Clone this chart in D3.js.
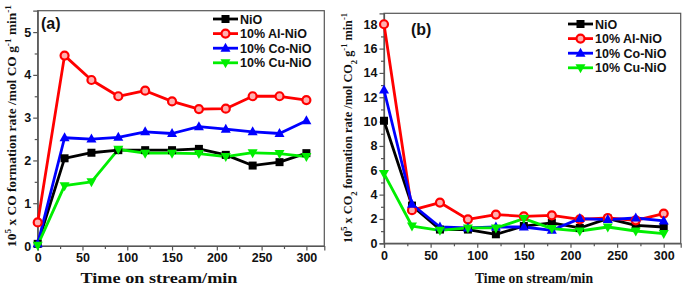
<!DOCTYPE html>
<html><head><meta charset="utf-8">
<script src="https://cdn.jsdelivr.net/npm/d3@7"></script>
<style>body{margin:0;background:#fff}svg{display:block}</style>
</head><body>
<script>
const times = [0,30,60,90,120,150,180,210,240,270,300];
const seriesNames = ["NiO","10% Al-NiO","10% Co-NiO","10% Cu-NiO"];
const seriesColors = ["#000000","#ff0000","#0000ff","#00ee00"];
const seriesMarkers = ["square","circle","triangleUp","triangleDown"];
// Panel (a): CO formation rate
const coNiO  = [0.05,2.05,2.18,2.24,2.24,2.24,2.27,2.13,1.88,1.96,2.17];
const coAl   = [0.55,4.45,3.88,3.50,3.63,3.38,3.20,3.21,3.50,3.50,3.41];
const coCo   = [0.05,2.53,2.50,2.54,2.67,2.63,2.79,2.73,2.67,2.63,2.93];
const coCu   = [0.02,1.41,1.50,2.26,2.17,2.17,2.16,2.09,2.18,2.16,2.09];
// Panel (b): CO2 formation rate
const co2NiO = [10.07,3.10,1.13,1.13,0.74,1.42,1.67,1.26,2.03,1.48,1.34];
const co2Al  = [18.0,2.72,3.35,1.97,2.36,2.22,2.30,1.97,2.08,1.89,2.44];
const co2Co  = [12.6,3.21,1.34,1.26,1.34,1.34,1.07,2.03,1.95,2.08,1.84];
const co2Cu  = [5.73,1.42,1.07,1.26,1.26,2.03,1.21,1.01,1.34,1.01,0.80];
const xTicks = [0,50,100,150,200,250,300];
const yTicksA = [0,1,2,3,4,5];
const yTicksB = [0,2,4,6,8,10,12,14,16,18];

const svg = d3.select("body").append("svg").attr("width",685).attr("height",288);
const axisColor = "#555";

function marker(g, type, x, y, color){
  const s = 4.5;
  if(type==="square"){
    g.append("rect").attr("x",x-s+0.5).attr("y",y-s+0.5).attr("width",2*s-1).attr("height",2*s-1).attr("fill",color);
  } else if(type==="circle"){
    g.append("circle").attr("cx",x).attr("cy",y).attr("r",s-0.5).attr("fill","#ffb0b0").attr("stroke",color).attr("stroke-width",2.2);
  } else if(type==="triangleUp"){
    g.append("path").attr("d",`M${x},${y-s-1}L${x+s+0.5},${y+s-1}L${x-s-0.5},${y+s-1}Z`).attr("fill",color);
  } else {
    g.append("path").attr("d",`M${x},${y+s+1}L${x+s+0.5},${y-s+1}L${x-s-0.5},${y-s+1}Z`).attr("fill",color);
  }
}

function panel(cfg){
  const x = d3.scaleLinear().domain([0,cfg.xmax]).range([cfg.left,cfg.right]);
  const y = d3.scaleLinear().domain([0,cfg.ymax]).range([cfg.bottom,cfg.top]);
  const g = svg.append("g");
  g.append("rect").attr("x",cfg.left).attr("y",cfg.top).attr("width",cfg.right-cfg.left).attr("height",cfg.bottom-cfg.top)
    .attr("fill","none").attr("stroke",axisColor).attr("stroke-width",1.2);
  const xMinor = xTicks.slice(0,-1).map(v=>v+25);
  const xm = g.append("g").attr("transform",`translate(0,${cfg.bottom})`)
    .call(d3.axisBottom(x).tickValues(xMinor).tickSize(3).tickFormat(""));
  xm.select(".domain").remove();
  const ym = g.append("g").attr("transform",`translate(${cfg.left},0)`)
    .call(d3.axisLeft(y).tickValues(cfg.yMinor).tickSize(3).tickFormat(""));
  ym.select(".domain").remove();
  const xa = g.append("g").attr("transform",`translate(0,${cfg.bottom})`)
    .call(d3.axisBottom(x).tickValues(xTicks).tickSize(4.5).tickPadding(3).tickFormat(d3.format("d")));
  const ya = g.append("g").attr("transform",`translate(${cfg.left},0)`)
    .call(d3.axisLeft(y).tickValues(cfg.yTicks).tickSize(4.5).tickPadding(2).tickFormat(d3.format("d")));
  [xa,ya,xm,ym].forEach(a=>{
    a.selectAll("line").attr("stroke",axisColor).attr("stroke-width",1.2);
    a.select(".domain").attr("stroke",axisColor).attr("stroke-width",1.2);
    a.selectAll("text").attr("fill","#111").attr("font-family","Liberation Sans, Arial, sans-serif")
      .attr("font-weight","bold").attr("font-size",12.5);
  });
  cfg.data.forEach((vals,i)=>{
    const line = d3.line().x((d,j)=>x(times[j])).y(d=>y(d));
    g.append("path").datum(vals).attr("d",line).attr("fill","none")
      .attr("stroke",seriesColors[i]).attr("stroke-width",2.8).attr("stroke-linejoin","round");
  });
  cfg.data.forEach((vals,i)=>{
    const mg = g.append("g");
    vals.forEach((v,j)=>marker(mg,seriesMarkers[i],x(times[j]),y(v),seriesColors[i]));
  });
  seriesNames.forEach((n,i)=>{
    const ly = cfg.legY + i*14.6;
    const lg = g.append("g");
    lg.append("line").attr("x1",cfg.legX).attr("x2",cfg.legX+25).attr("y1",ly).attr("y2",ly)
      .attr("stroke",seriesColors[i]).attr("stroke-width",2.8);
    marker(lg,seriesMarkers[i],cfg.legX+12.5,ly,seriesColors[i]);
    lg.append("text").attr("x",cfg.legX+27).attr("y",ly).attr("dy","0.36em")
      .attr("font-family","Liberation Sans, Arial, sans-serif").attr("font-weight","bold").attr("font-size",12.5)
      .attr("fill","#111").text(n);
  });
  g.append("text").attr("x",cfg.labX).attr("y",cfg.labY).attr("font-family","Liberation Sans, Arial, sans-serif")
    .attr("font-weight","bold").attr("font-size",16).attr("fill","#111").text(cfg.label);
  g.append("text").attr("x",cfg.xtX).attr("y",283).attr("text-anchor","middle")
    .attr("font-family","Liberation Serif, Times New Roman, serif").attr("font-weight","bold").attr("font-size",15)
    .attr("textLength",cfg.xtLen).attr("lengthAdjust","spacingAndGlyphs").attr("fill","#111").text("Time on stream/min");
  const yt = g.append("text").attr("transform",`translate(${cfg.ytX},${cfg.ytY}) rotate(-90)`).attr("text-anchor","middle")
    .attr("font-family","Liberation Serif, Times New Roman, serif").attr("font-weight","bold").attr("font-size",13)
    .attr("textLength",cfg.ytLen).attr("lengthAdjust","spacingAndGlyphs").attr("fill","#111");
  cfg.yTitle.forEach(p=>{
    const t = yt.append("tspan").text(p[0]);
    if(p[1]==="sup") t.attr("baseline-shift","super").attr("font-size",9);
    if(p[1]==="sub") t.attr("baseline-shift","sub").attr("font-size",9);
  });
}

panel({left:37.7,right:324.3,top:10.7,bottom:246,xmax:320,ymax:5.5,
  yTicks:yTicksA,yMinor:[0.5,1.5,2.5,3.5,4.5],
  data:[coNiO,coAl,coCo,coCu],legX:213,legY:19,label:"(a)",labX:41,labY:29,
  xtX:159,xtLen:157,ytX:16,ytY:126,ytLen:242,
  yTitle:[["10"],["5","sup"],[" x CO formation rate /mol CO g"],["-1","sup"],[" min"],["-1","sup"]]});

panel({left:384,right:680.7,top:13.3,bottom:243.3,xmax:318.2,ymax:18.9,
  yTicks:yTicksB,yMinor:[1,3,5,7,9,11,13,15,17],
  data:[co2NiO,co2Al,co2Co,co2Cu],legX:568,legY:24,label:"(b)",labX:411,labY:35,
  xtX:534,xtLen:118,ytX:352,ytY:128,ytLen:230,
  yTitle:[["10"],["5","sup"],[" x CO"],["2","sub"],[" formation rate /mol CO"],["2","sub"],[" g"],["-1","sup"],[" min"],["-1","sup"]]});
</script>
</body></html>
